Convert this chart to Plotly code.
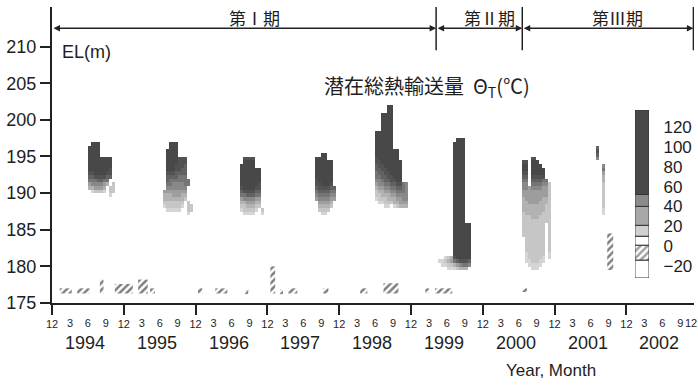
import plotly.graph_objects as go

# ---------------- data ----------------
YEARS = [1994, 1995, 1996, 1997, 1998, 1999, 2000, 2001, 2002]
MONTH_LABELS = ["12", "3", "6", "9"]
EL_TICKS = [175, 180, 185, 190, 195, 200, 205, 210]

# level code -> latent total heat transport value (deg C)
LEVEL_CODES = ["1", "2", "3", "4", "5", "6", "7", "8", "9"]
LEVEL_VALUES = [5, 15, 25, 35, 45, 55, 70, 90, 120]

# each blob: start month (months after Dec 1993), top elevation (m), rows of level codes
# cells are 0.5 month wide and 0.5 m tall
B1994_START, B1994_TOP = 6.0, 197.0
B1994 = [
    " 999     ",
    "9999     ",
    "9999     ",
    "9999     ",
    "99999999 ",
    "99999999 ",
    "99999999 ",
    "99999998 ",
    "88999988 ",
    "77888877 ",
    "6667766  ",
    "4555543 2",
    "334443 22",
    " 12221 22",
    "       1 ",
]

B1995_START, B1995_TOP = 18.5, 197.0
B1995 = [
    "  999      ",
    "  999      ",
    " 9999      ",
    " 9999      ",
    " 9999888   ",
    " 9999888   ",
    " 9998887   ",
    " 9998877   ",
    " 8887777   ",
    " 7777666   ",
    " 76666666  ",
    " 66555566  ",
    " 5555555   ",
    "44444444   ",
    "33344433   ",
    "33333332   ",
    "2222222 2  ",
    "1222221 22 ",
    " 11111  22 ",
    "        1  ",
]

B1996_START, B1996_TOP = 31.5, 195.0
B1996 = [
    " 8888   ",
    " 9999   ",
    "99999   ",
    "9999999 ",
    "9999999 ",
    "9999999 ",
    "9999999 ",
    "9999998 ",
    "8999988 ",
    "7888877 ",
    "6677766 ",
    "4555544 ",
    "3344433 ",
    "2233322 ",
    "122221 2",
    " 1111  1",
]

B1997_START, B1997_TOP = 44.0, 195.5
B1997 = [
    "  99    ",
    "9999    ",
    "999999  ",
    "999999  ",
    "999999  ",
    "999999  ",
    "999999  ",
    "899999  ",
    "889998  ",
    "7888877 ",
    "6777766 ",
    "5666655 ",
    "4555544 ",
    " 44443  ",
    " 33332  ",
    " 2222   ",
    "  11    ",
]

B1998_START, B1998_TOP = 54.0, 202.0
B1998 = [
    "    99     ",
    "    99     ",
    "  9999     ",
    "  9999     ",
    "  9999     ",
    "  9999     ",
    "  9999     ",
    "999999     ",
    "999999     ",
    "999999     ",
    "999999     ",
    "999999     ",
    "99999999   ",
    "99999999   ",
    "89999999   ",
    "889999999  ",
    "788999999  ",
    "778899999  ",
    "677889999  ",
    "667788999  ",
    "556778899  ",
    "45566778865",
    "34455667765",
    "23344556665",
    "22333445555",
    "12223334455",
    " 1122233444",
    "   11 12333",
]

B1999_START, B1999_TOP = 64.5, 197.5
B1999 = [
    "      999  ",
    "     9999  ",
    "     9999  ",
    "     9999  ",
    "     9999  ",
    "     9999  ",
    "     9999  ",
    "     9999  ",
    "     9999  ",
    "     9999  ",
    "     9999  ",
    "     9999  ",
    "     9999  ",
    "     9999  ",
    "     9999  ",
    "     9999  ",
    "     9999  ",
    "     9999  ",
    "     9999  ",
    "     9999  ",
    "     9999  ",
    "     9999  ",
    "     9999  ",
    "     999999",
    "     999999",
    "     999999",
    "     999999",
    "     999999",
    "     999999",
    "     999999",
    "     999999",
    "     999999",
    "  123899999",
    "11234678887",
    " 1122345665",
    "   1112333 ",
]

B2000_START, B2000_TOP = 78.0, 195.0
B2000 = [
    "    88      ",
    " 88 999     ",
    " 99 9999    ",
    " 99 99999   ",
    " 88 99999   ",
    " 77 88888   ",
    " 66 777766  ",
    " 55 6666552 ",
    " 5545555442 ",
    " 4444444442 ",
    " 4444444442 ",
    " 3444444332 ",
    " 3344443332 ",
    " 3333333322 ",
    " 3333333322 ",
    " 2333333222 ",
    " 2223332222 ",
    " 2222222222 ",
    " 22222222 2 ",
    " 22222222 2 ",
    " 22222222 2 ",
    " 22222222 2 ",
    "  2222222 2 ",
    "  2222222 2 ",
    "  2222222 2 ",
    "  2222222 2 ",
    "  1222222 1 ",
    "  1222221 1 ",
    "  1122211   ",
    "   11111    ",
    "    111     ",
]

B2001_START, B2001_TOP = 91.0, 196.5
B2001 = [
    "7   ",
    "8   ",
    "7   ",
    "5   ",
    "    ",
    "  5 ",
    "  6 ",
    "  4 ",
    "  3 ",
    "  3 ",
    "  2 ",
    "  2 ",
    "  2 ",
    "  2 ",
    "  2 ",
    "  2 ",
    "  2 ",
    "  1 ",
    "  1 ",
]

# negative (0 to -20 deg C) cells: month span and elevation span
NEG_START = [1.3, 4.2, 8.0, 10.5, 14.4, 16.4, 24.4, 27.3, 32.3, 36.5, 38.1, 39.5, 45.3, 51.5, 55.4, 62.4, 64.0, 78.6, 92.8]
NEG_END = [3.3, 6.3, 8.6, 13.5, 16.0, 17.2, 25.1, 29.3, 32.8, 37.3, 38.6, 41.0, 46.2, 52.7, 57.9, 63.0, 66.9, 79.4, 93.8]
NEG_LOW = [176.3, 176.3, 176.3, 176.3, 176.3, 176.3, 176.3, 176.3, 176.2, 176.3, 176.2, 176.3, 176.3, 176.3, 176.3, 176.3, 176.3, 176.5, 179.5]
NEG_HIGH = [177.0, 177.0, 178.2, 177.6, 178.2, 177.0, 177.0, 177.0, 176.9, 180.0, 176.9, 177.0, 177.0, 177.0, 177.7, 177.0, 177.0, 177.0, 184.5]

# legend (colour key) bins
LEGEND_EDGES = [-32, -14, 1, 10, 21, 40, 52, 137]
LEGEND_COLORS = ["#ffffff", "#ffffff", "#ffffff", "#d0d0d0", "#a8a8a8", "#8a8a8a", "#484848"]
LEGEND_PATTERN = ["", "/", "", "", "", "", ""]
LEGEND_TICKS = [-20, 0, 20, 40, 60, 80, 100, 120]

# observation periods (months after Dec 1993)
PERIOD_BOUNDS = [0, 64.2, 78.6, 107.2]
PERIOD_LABELS = ["第Ⅰ期", "第Ⅱ期", "第Ⅲ期"]

# ---------------- build ----------------
FONT = "Liberation Sans, Arial, Noto Sans CJK JP"
JFONT = "Noto Sans CJK JP, Liberation Sans"
TXT = "#1e1e1e"
X_MAX = 107.3
Y_MIN, Y_MAX = 175.0, 215.4
STEP_M, STEP_E = 0.5, 0.5

nx = int(round(107.5 / STEP_M))
ny = int(round((215.5 - Y_MIN) / STEP_E))
xs = [STEP_M * (i + 0.5) for i in range(nx)]
ys = [Y_MIN + STEP_E * (j + 0.5) for j in range(ny)]
z = [[None] * nx for _ in range(ny)]
level_map = dict(zip(LEVEL_CODES, LEVEL_VALUES))

blobs = [
    (B1994_START, B1994_TOP, B1994),
    (B1995_START, B1995_TOP, B1995),
    (B1996_START, B1996_TOP, B1996),
    (B1997_START, B1997_TOP, B1997),
    (B1998_START, B1998_TOP, B1998),
    (B1999_START, B1999_TOP, B1999),
    (B2000_START, B2000_TOP, B2000),
    (B2001_START, B2001_TOP, B2001),
]
for start, top, rows in blobs:
    for r, row in enumerate(rows):
        iy = int(round((top - STEP_E * (r + 1) - Y_MIN) / STEP_E))
        for c, ch in enumerate(row):
            if ch in level_map:
                ix = int(round((start + STEP_M * c) / STEP_M))
                if 0 <= ix < nx and 0 <= iy < ny:
                    z[iy][ix] = level_map[ch]

colorscale = [
    [0.0, "#dcdcdc"],
    [15 / 130, "#c6c6c6"],
    [25 / 130, "#b2b2b2"],
    [35 / 130, "#9d9d9d"],
    [45 / 130, "#888888"],
    [55 / 130, "#757575"],
    [70 / 130, "#626262"],
    [90 / 130, "#525252"],
    [1.0, "#454545"],
]

fig = go.Figure()
fig.add_trace(go.Heatmap(
    x=xs, y=ys, z=z, zmin=0, zmax=130, colorscale=colorscale,
    showscale=False, hoverinfo="skip", zsmooth=False,
))

neg_center = [(a + b) / 2 for a, b in zip(NEG_START, NEG_END)]
neg_width = [b - a for a, b in zip(NEG_START, NEG_END)]
neg_h = [h - l for l, h in zip(NEG_LOW, NEG_HIGH)]
fig.add_trace(go.Bar(
    x=neg_center, y=neg_h, base=NEG_LOW, width=neg_width,
    marker=dict(color="rgba(0,0,0,0)", line=dict(width=0),
                pattern=dict(shape="/", fgcolor="#000000", bgcolor="rgba(0,0,0,0)",
                             size=5, solidity=0.5, fillmode="overlay")),
    xaxis="x3", yaxis="y", hoverinfo="skip",
))

leg_base = LEGEND_EDGES[:-1]
leg_h = [b - a for a, b in zip(LEGEND_EDGES[:-1], LEGEND_EDGES[1:])]
fig.add_trace(go.Bar(
    x=[0] * len(leg_base), y=leg_h, base=leg_base, width=1,
    marker=dict(color=LEGEND_COLORS, line=dict(color="#333333", width=1),
                pattern=dict(shape=LEGEND_PATTERN, fgcolor="#000000", size=5,
                             solidity=0.5, fillmode="overlay")),
    xaxis="x2", yaxis="y2", hoverinfo="skip",
))

year_ticks = [12 * k for k in range(len(YEARS))]
month_ticks = [3 * k for k in range(len(YEARS) * 4) if k % 4 != 0]
month_text = [MONTH_LABELS[k % 4] for k in range(len(YEARS) * 4) if k % 4 != 0]

annotations = []
for i, yr in enumerate(YEARS):
    annotations.append(dict(x=12 * i + 5.5, xref="x", y=0, yref="paper", yshift=-40,
                            text=str(yr), showarrow=False, yanchor="middle",
                            font=dict(size=18, color=TXT, family=FONT)))
annotations.append(dict(x=1, xref="paper", xanchor="right", xshift=5, y=0, yref="paper", yshift=-20,
                        text=MONTH_LABELS[0], showarrow=False, yanchor="middle",
                        font=dict(size=11, color=TXT, family=FONT)))
annotations.append(dict(x=0.85, xref="paper", y=0, yref="paper", yshift=-67,
                        text="Year, Month", showarrow=False, yanchor="middle",
                        font=dict(size=17, color=TXT, family=FONT)))
annotations.append(dict(x=0.0125, xref="paper", xanchor="left", y=209.2, yref="y",
                        text="EL(m)", showarrow=False, yanchor="middle",
                        font=dict(size=18, color=TXT, family=FONT)))
annotations.append(dict(x=0.748, xref="paper", y=204.5, yref="y",
                        text="潜在総熱輸送量  Θ<sub>T</sub>(℃)", showarrow=False, yanchor="middle",
                        font=dict(size=20, color=TXT, family=JFONT)))
for i, lab in enumerate(PERIOD_LABELS):
    b0, b1 = PERIOD_BOUNDS[i], PERIOD_BOUNDS[i + 1]
    annotations.append(dict(x=(b0 + b1) / 2, xref="x", xshift=10, y=213.9, yref="y",
                            text=lab, showarrow=False, yanchor="middle",
                            font=dict(size=17, color=TXT, family=JFONT)))
    annotations.append(dict(x=b1, y=212.5, ax=b0, ay=212.5, xref="x", yref="y",
                            axref="x", ayref="y", text="", showarrow=True,
                            arrowhead=2, arrowside="end+start", arrowsize=1,
                            arrowwidth=1.3, arrowcolor="#222222", standoff=0, startstandoff=0))

shapes = []
for b in PERIOD_BOUNDS[1:]:
    shapes.append(dict(type="line", x0=b, x1=b, y0=209.5, y1=216, xref="x", yref="y",
                       line=dict(color="#222222", width=1.5)))

fig.update_layout(
    width=698, height=385,
    margin=dict(l=52, r=4, t=7, b=82),
    paper_bgcolor="white", plot_bgcolor="white",
    barmode="overlay", showlegend=False,
    font=dict(family=FONT, color=TXT),
    xaxis=dict(domain=[0, 1], anchor="y", range=[0, X_MAX], tickmode="array",
               tickvals=year_ticks, ticktext=[MONTH_LABELS[0]] * len(year_ticks),
               ticks="outside", ticklen=10, tickwidth=2, tickcolor="#222222",
               showline=True, linewidth=2, linecolor="#222222",
               showgrid=False, zeroline=False, tickfont=dict(size=11, color=TXT)),
    xaxis3=dict(overlaying="x", anchor="y", side="bottom", range=[0, X_MAX], tickmode="array",
                tickvals=month_ticks, ticktext=month_text,
                ticks="outside", ticklen=10, tickcolor="rgba(0,0,0,0)",
                showline=False, showgrid=False, zeroline=False,
                tickfont=dict(size=11, color=TXT)),
    yaxis=dict(domain=[0, 1], anchor="x", range=[Y_MIN, Y_MAX], tickmode="array",
               tickvals=EL_TICKS, ticks="outside", ticklen=10, tickwidth=2, tickcolor="#222222",
               showline=True, linewidth=2, linecolor="#222222",
               showgrid=False, zeroline=False, tickfont=dict(size=18, color=TXT)),
    xaxis2=dict(domain=[0.908, 0.930], anchor="y2", range=[-0.5, 0.5], visible=False),
    yaxis2=dict(domain=[0.0845, 0.652], anchor="x2", range=[-32, 137], side="right",
                tickmode="array", tickvals=LEGEND_TICKS, ticks="outside", ticklen=10,
                tickcolor="rgba(0,0,0,0)", showline=False, showgrid=False, zeroline=False,
                tickfont=dict(size=17, color=TXT)),
    annotations=annotations,
    shapes=shapes,
)

fig.write_html("out.html")
